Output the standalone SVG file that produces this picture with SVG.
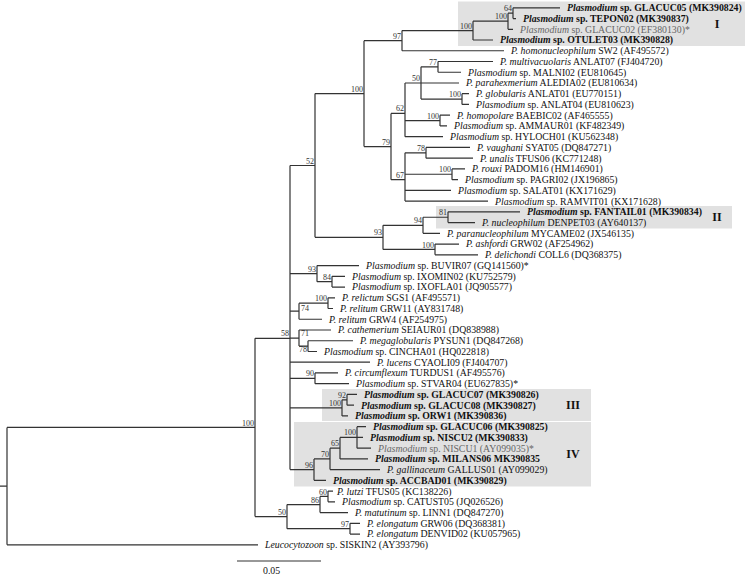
<svg xmlns="http://www.w3.org/2000/svg" width="745" height="580" viewBox="0 0 745 580">
<style>
.br{fill:none;stroke:#333;stroke-width:1.2}
.box{fill:#e1e1e1}
.lf{font-family:"Liberation Serif","Times New Roman",serif;font-size:9.8px;fill:#111}
.b{font-weight:bold}
.i{font-style:italic}
.g{fill:#666}
.bs{font-family:"Liberation Serif","Times New Roman",serif;font-size:8px;fill:#333;text-anchor:end}
.bsl{font-family:"Liberation Serif","Times New Roman",serif;font-size:8px;fill:#333}
.rn{font-family:"Liberation Serif","Times New Roman",serif;font-size:12px;font-weight:bold;fill:#111;text-anchor:middle}
</style>
<rect width="745" height="580" fill="#fff"/>
<g id="clade-boxes">
<rect class="box" x="458" y="1.5" width="287" height="44.5"/>
<rect class="box" x="436" y="206" width="296" height="22.5"/>
<rect class="box" x="322" y="389" width="269" height="32"/>
<rect class="box" x="294" y="422" width="297" height="64.5"/>
</g>
<g id="connectors">
<path class="br" d="M0 486.13H7M7 427.46V544.8M7 427.46H255M7 544.8H258"/>
<path class="br" d="M255 338.3V516.61M255 338.3H290M255 516.61H287"/>
<path class="br" d="M290 165.5V469.62M290 165.5H315M290 273.6H317M290 311.2H299M290 338.06H299M290 362.22H370M290 378.33H315M290 407.87H342M290 469.62H314"/>
<path class="br" d="M315 93.6V237.37M315 93.6H364M315 237.37H383"/>
<path class="br" d="M364 40.7V146.53M364 40.7H402M364 146.53H391"/>
<path class="br" d="M402 30.6V50.76M402 30.6H473M402 50.76H504"/>
<path class="br" d="M473 21.2V40.02M473 21.2H508M473 40.02H493"/>
<path class="br" d="M508 13.17V29.28M508 13.17H513M508 29.28H513"/>
<path class="br" d="M513 7.8V18.54M513 7.8H560M513 18.54H516"/>
<path class="br" d="M391 113.41V179.64M391 113.41H405M391 179.64H405"/>
<path class="br" d="M405 82.98V136.68M405 82.98H421M405 120.57H440M405 136.68H443"/>
<path class="br" d="M421 66.87V99.09M421 66.87H438M421 82.98H459M421 99.09H462"/>
<path class="br" d="M438 61.5V72.24M438 61.5H493M438 72.24H461"/>
<path class="br" d="M462 93.72V104.46M462 93.72H469M462 104.46H469"/>
<path class="br" d="M440 115.2V125.94M440 115.2H450M440 125.94H447"/>
<path class="br" d="M405 152.79V201.12M405 152.79H426M405 174.27H452M405 190.38H451M405 201.12H488"/>
<path class="br" d="M426 147.42V158.16M426 147.42H470M426 158.16H473"/>
<path class="br" d="M452 168.9V179.64M452 168.9H465M452 179.64H458"/>
<path class="br" d="M383 225.29V249.45M383 225.29H423M383 249.45H435"/>
<path class="br" d="M423 217.23V233.34M423 217.23H448M423 233.34H440"/>
<path class="br" d="M448 211.86V222.6M448 211.86H520M448 222.6H475"/>
<path class="br" d="M435 244.08V254.82M435 244.08H459M435 254.82H478"/>
<path class="br" d="M317 265.56V281.67M317 265.56H359M317 281.67H332"/>
<path class="br" d="M332 276.3V287.04M332 276.3H345M332 287.04H345"/>
<path class="br" d="M299 303.15V319.26M299 303.15H328M299 319.26H322"/>
<path class="br" d="M328 297.78V308.52M328 297.78H335M328 308.52H333"/>
<path class="br" d="M299 330V346.11M299 330H331M299 346.11H308"/>
<path class="br" d="M308 340.74V351.48M308 340.74H353M308 351.48H317"/>
<path class="br" d="M315 372.96V383.7M315 372.96H338M315 383.7H349"/>
<path class="br" d="M342 399.81V415.92M342 399.81H347M342 415.92H348"/>
<path class="br" d="M347 394.44V405.18M347 394.44H357M347 405.18H354"/>
<path class="br" d="M314 458.88V480.36M314 458.88H330M314 480.36H326"/>
<path class="br" d="M330 448.14V469.62M330 448.14H340M330 469.62H380"/>
<path class="br" d="M340 437.4V458.88M340 437.4H357M340 458.88H368"/>
<path class="br" d="M357 426.66V448.14M357 426.66H366M357 437.4H363M357 448.14H371"/>
<path class="br" d="M287 504.53V528.69M287 504.53H320M287 528.69H350"/>
<path class="br" d="M320 496.47V512.58M320 496.47H328M320 512.58H348"/>
<path class="br" d="M328 491.1V501.84M328 491.1H333M328 501.84H335"/>
<path class="br" d="M350 523.32V534.06M350 523.32H360M350 534.06H360"/>
<path class="br" d="M237 561H321"/>
</g>
<g id="support-values">
<g id="n-root-plasmodium"><text class="bs" x="254" y="425.5">100</text></g>
<g id="n58"><text class="bs" x="289" y="336.3">58</text></g>
<g id="n52"><text class="bs" x="314" y="163.5">52</text></g>
<g id="n100-big"><text class="bs" x="363" y="91.6">100</text></g>
<g id="n97"><text class="bs" x="401" y="38.7">97</text></g>
<g id="n100-cladeI"><text class="bs" x="472" y="28.6">100</text></g>
<g id="n100-b"><text class="bs" x="507" y="19.2">100</text></g>
<g id="n64"><text class="bs" x="512" y="11.2">64</text></g>
<g id="n79"><text class="bs" x="390" y="144.5">79</text></g>
<g id="n62"><text class="bs" x="404" y="111.4">62</text></g>
<g id="n50a"><text class="bs" x="420" y="81">50</text></g>
<g id="n77"><text class="bs" x="437" y="64.9">77</text></g>
<g id="n100g"><text class="bs" x="461" y="97.1">100</text></g>
<g id="n100h"><text class="bs" x="439" y="118.6">100</text></g>
<g id="n67"><text class="bs" x="404" y="177.6">67</text></g>
<g id="n78a"><text class="bs" x="425" y="150.8">78</text></g>
<g id="n100r"><text class="bs" x="451" y="172.3">100</text></g>
<g id="n93a"><text class="bs" x="382" y="235.4">93</text></g>
<g id="n94"><text class="bs" x="422" y="223.3">94</text></g>
<g id="n81"><text class="bs" x="447" y="215.2">81</text></g>
<g id="n100as"><text class="bs" x="434" y="247.5">100</text></g>
<g id="n93b"><text class="bs" x="316" y="271.6">93</text></g>
<g id="n84"><text class="bs" x="331" y="279.7">84</text></g>
<g id="n74"><text class="bsl" x="301" y="311">74</text></g>
<g id="n100rel"><text class="bs" x="327" y="301.2">100</text></g>
<g id="n71"><text class="bsl" x="301" y="336">71</text></g>
<g id="n78b"><text class="bs" x="307" y="352">78</text></g>
<g id="n90"><text class="bs" x="314" y="376.3">90</text></g>
<g id="n100III"><text class="bs" x="341" y="405.9">100</text></g>
<g id="n92"><text class="bs" x="346" y="397.8">92</text></g>
<g id="n96"><text class="bs" x="313" y="467.6">96</text></g>
<g id="n70"><text class="bs" x="329" y="456.9">70</text></g>
<g id="n65"><text class="bs" x="339" y="446.1">65</text></g>
<g id="n100IV"><text class="bs" x="356" y="435.4">100</text></g>
<g id="n50"><text class="bs" x="286" y="514.6">50</text></g>
<g id="n86"><text class="bs" x="319" y="502.5">86</text></g>
<g id="n60"><text class="bs" x="327" y="494.5">60</text></g>
<g id="n97e"><text class="bs" x="349" y="526.7">97</text></g>
</g>
<g id="clade-labels">
<g id="label-I"><text class="rn" x="717" y="28">I</text></g>
<g id="label-II"><text class="rn" x="717" y="221">II</text></g>
<g id="label-III"><text class="rn" x="573" y="409">III</text></g>
<g id="label-IV"><text class="rn" x="573" y="458">IV</text></g>
</g>
<g id="leaves">
<g id="GLACUC05"><text class="lf b" x="567" y="11.2"><tspan class="i">Plasmodium</tspan> sp. GLACUC05 (MK390824)</text></g>
<g id="TEPON02"><text class="lf b" x="523" y="21.94"><tspan class="i">Plasmodium</tspan> sp. TEPON02 (MK390837)</text></g>
<g id="GLACUC02"><text class="lf g" x="520" y="32.68"><tspan class="i">Plasmodium</tspan> sp. GLACUC02 (EF380130)*</text></g>
<g id="OTULET03"><text class="lf b" x="500" y="43.42"><tspan class="i">Plasmodium</tspan> sp. OTULET03 (MK390828)</text></g>
<g id="SW2"><text class="lf" x="511" y="54.16"><tspan class="i">P. homonucleophilum</tspan> SW2 (AF495572)</text></g>
<g id="ANLAT07"><text class="lf" x="500" y="64.9"><tspan class="i">P. multivacuolaris</tspan> ANLAT07 (FJ404720)</text></g>
<g id="MALNI02"><text class="lf" x="468" y="75.64"><tspan class="i">Plasmodium</tspan> sp. MALNI02 (EU810645)</text></g>
<g id="ALEDIA02"><text class="lf" x="466" y="86.38"><tspan class="i">P. parahexmerium</tspan> ALEDIA02 (EU810634)</text></g>
<g id="ANLAT01"><text class="lf" x="476" y="97.12"><tspan class="i">P. globularis</tspan> ANLAT01 (EU770151)</text></g>
<g id="ANLAT04"><text class="lf" x="476" y="107.86"><tspan class="i">Plasmodium</tspan> sp. ANLAT04 (EU810623)</text></g>
<g id="BAEBIC02"><text class="lf" x="457" y="118.6"><tspan class="i">P. homopolare</tspan> BAEBIC02 (AF465555)</text></g>
<g id="AMMAUR01"><text class="lf" x="454" y="129.34"><tspan class="i">Plasmodium</tspan> sp. AMMAUR01 (KF482349)</text></g>
<g id="HYLOCH01"><text class="lf" x="450" y="140.08"><tspan class="i">Plasmodium</tspan> sp. HYLOCH01 (KU562348)</text></g>
<g id="SYAT05"><text class="lf" x="477" y="150.82"><tspan class="i">P. vaughani</tspan> SYAT05 (DQ847271)</text></g>
<g id="TFUS06"><text class="lf" x="480" y="161.56"><tspan class="i">P. unalis</tspan> TFUS06 (KC771248)</text></g>
<g id="PADOM16"><text class="lf" x="472" y="172.3"><tspan class="i">P. rouxi</tspan> PADOM16 (HM146901)</text></g>
<g id="PAGRI02"><text class="lf" x="465" y="183.04"><tspan class="i">Plasmodium</tspan> sp. PAGRI02 (JX196865)</text></g>
<g id="SALAT01"><text class="lf" x="458" y="193.78"><tspan class="i">Plasmodium</tspan> sp. SALAT01 (KX171629)</text></g>
<g id="RAMVIT01"><text class="lf" x="495" y="204.52"><tspan class="i">Plasmodium</tspan> sp. RAMVIT01 (KX171628)</text></g>
<g id="FANTAIL01"><text class="lf b" x="527" y="215.26"><tspan class="i">Plasmodium</tspan> sp. FANTAIL01 (MK390834)</text></g>
<g id="DENPET03"><text class="lf" x="482" y="226"><tspan class="i">P. nucleophilum</tspan> DENPET03 (AY640137)</text></g>
<g id="MYCAME02"><text class="lf" x="447" y="236.74"><tspan class="i">P. paranucleophilum</tspan> MYCAME02 (JX546135)</text></g>
<g id="GRW02"><text class="lf" x="466" y="247.48"><tspan class="i">P. ashfordi</tspan> GRW02 (AF254962)</text></g>
<g id="COLL6"><text class="lf" x="485" y="258.22"><tspan class="i">P. delichondi</tspan> COLL6 (DQ368375)</text></g>
<g id="BUVIR07"><text class="lf" x="366" y="268.96"><tspan class="i">Plasmodium</tspan> sp. BUVIR07 (GQ141560)*</text></g>
<g id="IXOMIN02"><text class="lf" x="352" y="279.7"><tspan class="i">Plasmodium</tspan> sp. IXOMIN02 (KU752579)</text></g>
<g id="IXOFLA01"><text class="lf" x="352" y="290.44"><tspan class="i">Plasmodium</tspan> sp. IXOFLA01 (JQ905577)</text></g>
<g id="SGS1"><text class="lf" x="342" y="301.18"><tspan class="i">P. relictum</tspan> SGS1 (AF495571)</text></g>
<g id="GRW11"><text class="lf" x="340" y="311.92"><tspan class="i">P. relitum</tspan> GRW11 (AY831748)</text></g>
<g id="GRW4"><text class="lf" x="329" y="322.66"><tspan class="i">P. relitum</tspan> GRW4 (AF254975)</text></g>
<g id="SEIAUR01"><text class="lf" x="338" y="333.4"><tspan class="i">P. cathemerium</tspan> SEIAUR01 (DQ838988)</text></g>
<g id="PYSUN1"><text class="lf" x="360" y="344.14"><tspan class="i">P. megaglobularis</tspan> PYSUN1 (DQ847268)</text></g>
<g id="CINCHA01"><text class="lf" x="324" y="354.88"><tspan class="i">Plasmodium</tspan> sp. CINCHA01 (HQ022818)</text></g>
<g id="CYAOLI09"><text class="lf" x="377" y="365.62"><tspan class="i">P. lucens</tspan> CYAOLI09 (FJ404707)</text></g>
<g id="TURDUS1"><text class="lf" x="345" y="376.36"><tspan class="i">P. circumflexum</tspan> TURDUS1 (AF495576)</text></g>
<g id="STVAR04"><text class="lf" x="356" y="387.1"><tspan class="i">Plasmodium</tspan> sp. STVAR04 (EU627835)*</text></g>
<g id="GLACUC07"><text class="lf b" x="364" y="397.84"><tspan class="i">Plasmodium</tspan> sp. GLACUC07 (MK390826)</text></g>
<g id="GLACUC08"><text class="lf b" x="361" y="408.58"><tspan class="i">Plasmodium</tspan> sp. GLACUC08 (MK390827)</text></g>
<g id="ORW1"><text class="lf b" x="355" y="419.32"><tspan class="i">Plasmodium</tspan> sp. ORW1 (MK390836)</text></g>
<g id="GLACUC06"><text class="lf b" x="373" y="430.06"><tspan class="i">Plasmodium</tspan> sp. GLACUC06 (MK390825)</text></g>
<g id="NISCU2"><text class="lf b" x="370" y="440.8"><tspan class="i">Plasmodium</tspan> sp. NISCU2 (MK390833)</text></g>
<g id="NISCU1"><text class="lf g" x="378" y="451.54"><tspan class="i">Plasmodium</tspan> sp. NISCU1 (AY099035)*</text></g>
<g id="MILANS06"><text class="lf b" x="375" y="462.28"><tspan class="i">Plasmodium</tspan> sp. MILANS06 MK390835</text></g>
<g id="GALLUS01"><text class="lf" x="387" y="473.02"><tspan class="i">P. gallinaceum</tspan> GALLUS01 (AY099029)</text></g>
<g id="ACCBAD01"><text class="lf b" x="333" y="483.76"><tspan class="i">Plasmodium</tspan> sp. ACCBAD01 (MK390829)</text></g>
<g id="TFUS05"><text class="lf" x="337" y="494.5"><tspan class="i">P. lutzi</tspan> TFUS05 (KC138226)</text></g>
<g id="CATUST05"><text class="lf" x="342" y="505.24"><tspan class="i">Plasmodium</tspan> sp. CATUST05 (JQ026526)</text></g>
<g id="LINN1"><text class="lf" x="355" y="515.98"><tspan class="i">P. matutinum</tspan> sp. LINN1 (DQ847270)</text></g>
<g id="GRW06"><text class="lf" x="367" y="526.72"><tspan class="i">P. elongatum</tspan> GRW06 (DQ368381)</text></g>
<g id="DENVID02"><text class="lf" x="367" y="537.46"><tspan class="i">P. elongatum</tspan> DENVID02 (KU057965)</text></g>
<g id="SISKIN2"><text class="lf" x="265" y="548.2"><tspan class="i">Leucocytozoon</tspan> sp. SISKIN2 (AY393796)</text></g>
</g>
<g id="scale-label"><text class="lf" x="263" y="573.5">0.05</text></g>
</svg>
